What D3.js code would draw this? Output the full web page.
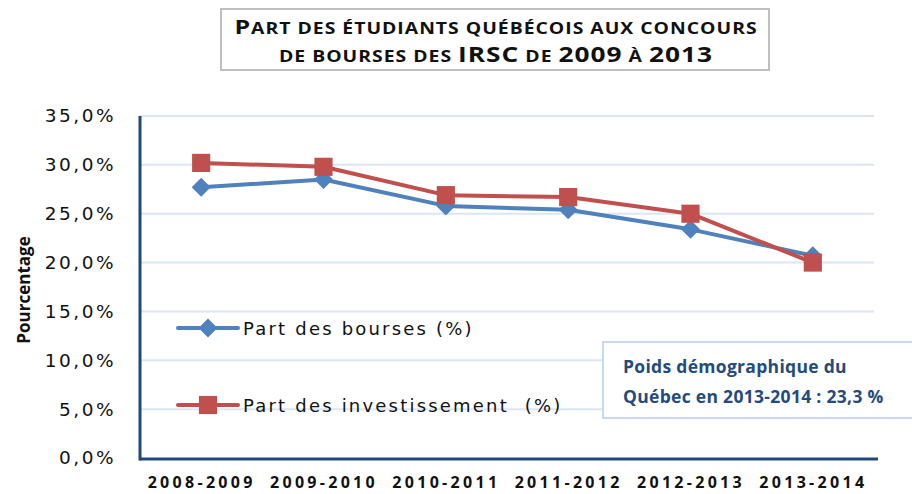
<!DOCTYPE html>
<html>
<head>
<meta charset="utf-8">
<script src="https://cdn.jsdelivr.net/npm/d3@7"></script>
<style>
	body { margin: 0; background: #fff; }
	svg { display: block; }
</style>
</head>
<body>
<div id="chart"></div>
<script>
const categories = ['2008-2009', '2009-2010', '2010-2011', '2011-2012', '2012-2013', '2013-2014']
const bourses = [27.7, 28.5, 25.8, 25.4, 23.4, 20.7]
const investissement = [30.2, 29.8, 26.9, 26.7, 25.0, 20.0]
const yTicks = [0, 5, 10, 15, 20, 25, 30, 35]

const width = 912
const height = 494
const plot = { left: 140, right: 874, top: 116, bottom: 458 }

const blue = '#4f81bd'
const red = '#c0504d'
const axisColor = '#1f497d'

const svg = d3.select('#chart').append('svg')
	.attr('width', width)
	.attr('height', height)

const scaleX = d3.scalePoint()
	.domain(categories)
	.range([plot.left, plot.right])
	.padding(0.5)

const scaleY = d3.scaleLinear()
	.domain([0, 35])
	.range([plot.bottom, plot.top])

// title box
svg.append('rect')
	.attr('x', 221).attr('y', 9)
	.attr('width', 548).attr('height', 61)
	.attr('fill', '#fff')
	.attr('stroke', '#bfbfbf')
	.attr('stroke-width', 2)

const title = svg.append('g')
	.attr('font-family', 'Open Sans')
	.attr('font-weight', 'bold')
	.attr('fill', '#111')
	.attr('text-anchor', 'middle')

// the source picture is stretched sideways, so the title is too
function titleLine(y, parts) {
	const t = title.append('text')
		.attr('transform', `translate(496, ${y}) scale(1.25, 1)`)
		.attr('letter-spacing', 0.8)
	parts.forEach(p => {
		t.append('tspan').attr('font-size', p[1]).text(p[0])
	})
}
titleLine(34, [['P', 20], ['ART DES ÉTUDIANTS QUÉBÉCOIS AUX CONCOURS', 15.5]])
titleLine(62, [['DE BOURSES DES ', 15.5], ['IRSC', 21], [' DE ', 15.5], ['2009', 21], ['  À ', 15.5], ['2013', 21]])

// gridlines
svg.append('g')
	.selectAll('line')
	.data(yTicks.filter(d => d > 0))
	.join('line')
	.attr('x1', plot.left).attr('x2', plot.right)
	.attr('y1', d => scaleY(d)).attr('y2', d => scaleY(d))
	.attr('stroke', '#dce6f2')
	.attr('stroke-width', 2)

// y axis
const axisLeft = d3.axisLeft(scaleY)
	.tickValues(yTicks)
	.tickSize(0)
	.tickPadding(24)
	.tickFormat(d => d3.format('.1f')(d).replace('.', ',') + '%')

const yAxis = svg.append('g')
	.attr('transform', `translate(${plot.left}, 0)`)
	.call(axisLeft)
yAxis.select('.domain').remove()
yAxis.selectAll('text')
	.attr('font-family', 'DejaVu Sans')
	.attr('font-size', 18.5)
	.attr('letter-spacing', 2.5)
	.attr('fill', '#111')

// x axis
const axisBottom = d3.axisBottom(scaleX).tickSize(0).tickPadding(19)
const xAxis = svg.append('g')
	.attr('transform', `translate(0, ${plot.bottom})`)
	.call(axisBottom)
xAxis.select('.domain').remove()
xAxis.selectAll('text')
	.attr('font-family', 'Open Sans')
	.attr('font-weight', 'bold')
	.attr('font-size', 16)
	.attr('letter-spacing', 3.3)
	.attr('fill', '#111')

svg.append('line')
	.attr('x1', plot.left).attr('x2', plot.right + 4)
	.attr('y1', plot.bottom + 1).attr('y2', plot.bottom + 1)
	.attr('stroke', axisColor).attr('stroke-width', 3)
svg.append('line')
	.attr('x1', plot.left).attr('x2', plot.left)
	.attr('y1', plot.top).attr('y2', plot.bottom + 2.5)
	.attr('stroke', axisColor).attr('stroke-width', 3)

// axis title
svg.append('text')
	.attr('transform', 'translate(30, 290) rotate(-90)')
	.attr('text-anchor', 'middle')
	.attr('font-family', 'Open Sans')
	.attr('font-weight', 'bold')
	.attr('font-size', 17)
	.attr('fill', '#111')
	.text('Pourcentage')

// lines
const line = d3.line()
	.x((d, i) => scaleX(categories[i]))
	.y(d => scaleY(d))

const diamond = d3.symbol().type(d3.symbolDiamond2).size(230)
const square = d3.symbol().type(d3.symbolSquare).size(330)

function drawSeries(values, color, symbol) {
	svg.append('path')
		.datum(values)
		.attr('d', line)
		.attr('fill', 'none')
		.attr('stroke', color)
		.attr('stroke-width', 4)
		.attr('stroke-linejoin', 'round')
	svg.append('g')
		.selectAll('path')
		.data(values)
		.join('path')
		.attr('d', symbol)
		.attr('transform', (d, i) => `translate(${scaleX(categories[i])}, ${scaleY(d)})`)
		.attr('fill', color)
}
drawSeries(bourses, blue, diamond)
drawSeries(investissement, red, square)

// legend
const legendItems = [
	{ label: 'Part des bourses (%)', color: blue, symbol: diamond, y: 328 },
	{ label: 'Part des investissement  (%)', color: red, symbol: square, y: 405 }
]
const legend = svg.append('g')
legendItems.forEach(d => {
	legend.append('line')
		.attr('x1', 178).attr('x2', 238)
		.attr('y1', d.y).attr('y2', d.y)
		.attr('stroke', d.color).attr('stroke-width', 4)
		.attr('stroke-linecap', 'round')
	legend.append('path')
		.attr('d', d.symbol)
		.attr('transform', `translate(208, ${d.y})`)
		.attr('fill', d.color)
	legend.append('text')
		.attr('x', 243).attr('y', d.y + 7)
		.attr('font-family', 'DejaVu Sans')
		.attr('font-size', 18)
		.attr('letter-spacing', 2.2)
		.attr('fill', '#111')
		.style('white-space', 'pre')
		.text(d.label)
})

// annotation box
svg.append('rect')
	.attr('x', 603).attr('y', 342)
	.attr('width', 330).attr('height', 76)
	.attr('fill', '#fff')
	.attr('stroke', '#c6d9f1')
	.attr('stroke-width', 2)

const note = svg.append('text')
	.attr('font-family', 'Open Sans')
	.attr('font-weight', 'bold')
	.attr('font-size', 17.5)
	.attr('letter-spacing', 0.3)
	.attr('fill', '#254a7d')
note.append('tspan').attr('x', 623).attr('y', 373).text('Poids démographique du')
note.append('tspan').attr('x', 623).attr('y', 403).text('Québec en 2013-2014 : 23,3 %')
</script>
</body>
</html>
